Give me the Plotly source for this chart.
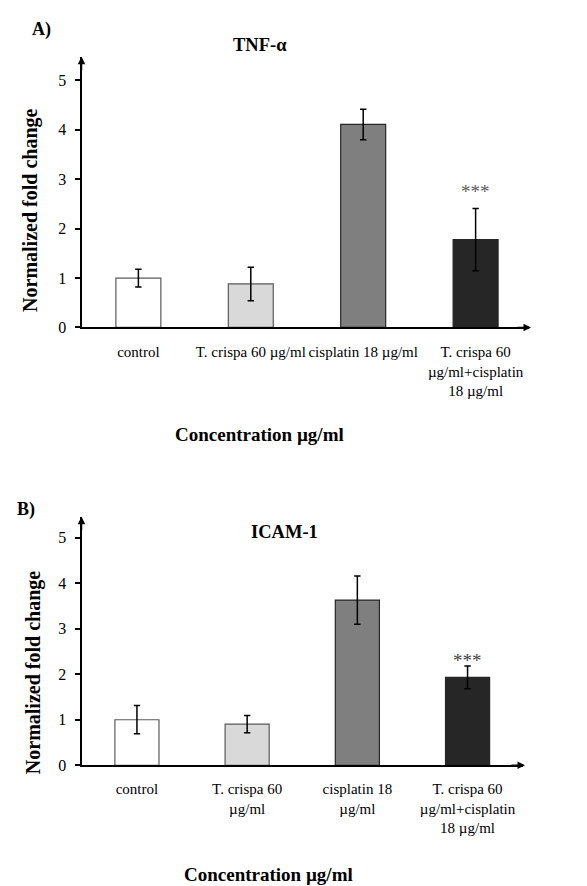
import plotly.graph_objects as go

# ---- data ----
categories = ["control", "T. crispa 60 µg/ml", "cisplatin 18 µg/ml", "T. crispa 60 µg/ml+cisplatin 18 µg/ml"]
tick_labels_a = ["control", "T. crispa 60 µg/ml", "cisplatin 18 µg/ml", "T. crispa 60<br>µg/ml+cisplatin<br>18 µg/ml"]
tick_labels_b = ["control", "T. crispa 60<br>µg/ml", "cisplatin 18<br>µg/ml", "T. crispa 60<br>µg/ml+cisplatin<br>18 µg/ml"]
tnf_values = [1.0, 0.88, 4.11, 1.78]
tnf_errors = [0.18, 0.34, 0.31, 0.63]
icam_values = [1.0, 0.905, 3.63, 1.93]
icam_errors = [0.31, 0.19, 0.53, 0.25]
y_ticks = [0, 1, 2, 3, 4, 5]
bar_colors = ["#ffffff", "#d9d9d9", "#7f7f7f", "#262626"]
bar_edges = ["#595959", "#595959", "#262626", "#262626"]

W, H = 587, 886
FONT = "Liberation Serif"

def px_x(p):
    return p / W

def px_y(p):
    return 1 - p / H

xpos = list(range(len(categories)))

fig = go.Figure()

for vals, errs, xa, ya in [(tnf_values, tnf_errors, "x", "y"), (icam_values, icam_errors, "x2", "y2")]:
    fig.add_trace(go.Bar(
        x=xpos, y=vals, width=0.4,
        marker=dict(color=bar_colors, line=dict(color=bar_edges, width=1.2)),
        error_y=dict(type="data", array=errs, visible=True, color="#000000", thickness=1.5, width=3.2),
        xaxis=xa, yaxis=ya, showlegend=False, hoverinfo="skip",
    ))

# axes geometry (pixels)
A = dict(x0=73.5, x1=521, y0=322.7, ytop=49.3, ymax=5.48, xr=[-0.506, 3.475])
B = dict(x0=73.5, x1=515, y0=765, ytop=514, ymax=5.46, xr=[-0.503, 3.503])

axis_common = dict(showline=True, linecolor="#000000", linewidth=2, showgrid=False, zeroline=False)
xtick_font = dict(family=FONT, size=15, color="#000000")
ytick_font = dict(family=FONT, size=16, color="#000000")

fig.update_layout(
    width=W, height=H, margin=dict(l=0, r=0, t=0, b=0),
    paper_bgcolor="white", plot_bgcolor="white",
    font=dict(family=FONT, color="#000000"),
    xaxis=dict(domain=[px_x(A["x0"]), px_x(A["x1"])], range=A["xr"], tickmode="array",
               tickvals=xpos, ticktext=tick_labels_a, ticks="", anchor="y", ticklabelstandoff=10,
               tickfont=xtick_font, **axis_common),
    yaxis=dict(domain=[px_y(A["y0"]), px_y(A["ytop"])], range=[0, A["ymax"]], tickmode="array",
               tickvals=y_ticks, ticks="outside", ticklen=5, tickwidth=2, tickcolor="#000000",
               ticklabelstandoff=5, tickfont=ytick_font, anchor="x", **axis_common),
    xaxis2=dict(domain=[px_x(B["x0"]), px_x(B["x1"])], range=B["xr"], tickmode="array",
                tickvals=xpos, ticktext=tick_labels_b, ticks="", anchor="y2", ticklabelstandoff=9,
                tickfont=xtick_font, **axis_common),
    yaxis2=dict(domain=[px_y(B["y0"]), px_y(B["ytop"])], range=[0, B["ymax"]], tickmode="array",
                tickvals=y_ticks, ticks="outside", ticklen=5, tickwidth=2, tickcolor="#000000",
                ticklabelstandoff=5, tickfont=ytick_font, anchor="x2", **axis_common),
)

ann = []
def text(x, y, t, size, bold=True, angle=0, color="#000000"):
    ann.append(dict(x=px_x(x), y=px_y(y), xref="paper", yref="paper", text=(f"<b>{t}</b>" if bold else t),
                    showarrow=False, textangle=angle, xanchor="center", yanchor="middle",
                    font=dict(family=FONT, size=size, color=color)))

text(33, 22, "A)", 18)
text(252, 37, "TNF-α", 18.5)
text(23, 205, "Normalized fold change", 20, angle=-90)
text(251, 431, "Concentration µg/ml", 19)

text(18, 507, "B)", 18)
text(276, 529, "ICAM-1", 18.5)
text(25, 672, "Normalized fold change", 20, angle=-90)
text(260, 875, "Concentration µg/ml", 19)

# significance markers
ann.append(dict(x=3, y=tnf_values[3] + tnf_errors[3], xref="x", yref="y", text="***", showarrow=False,
                yanchor="middle", yshift=17, font=dict(family=FONT, size=19, color="#595959")))
ann.append(dict(x=3, y=icam_values[3] + icam_errors[3], xref="x2", yref="y2", text="***", showarrow=False,
                yanchor="middle", yshift=6, font=dict(family=FONT, size=19, color="#404040")))

# axis arrows
for g in (A, B):
    ann.append(dict(x=px_x(g["x0"]), y=px_y(g["ytop"]), xref="paper", yref="paper", ax=0, ay=15,
                    showarrow=True, arrowhead=2, arrowsize=1, arrowwidth=1.5, arrowcolor="#000000", text=""))
    ann.append(dict(x=px_x(g["x1"] + 2), y=px_y(g["y0"]), xref="paper", yref="paper", ax=-15, ay=0,
                    showarrow=True, arrowhead=2, arrowsize=1, arrowwidth=1.5, arrowcolor="#000000", text=""))

fig.update_layout(annotations=ann)
fig.write_html("out.html")
